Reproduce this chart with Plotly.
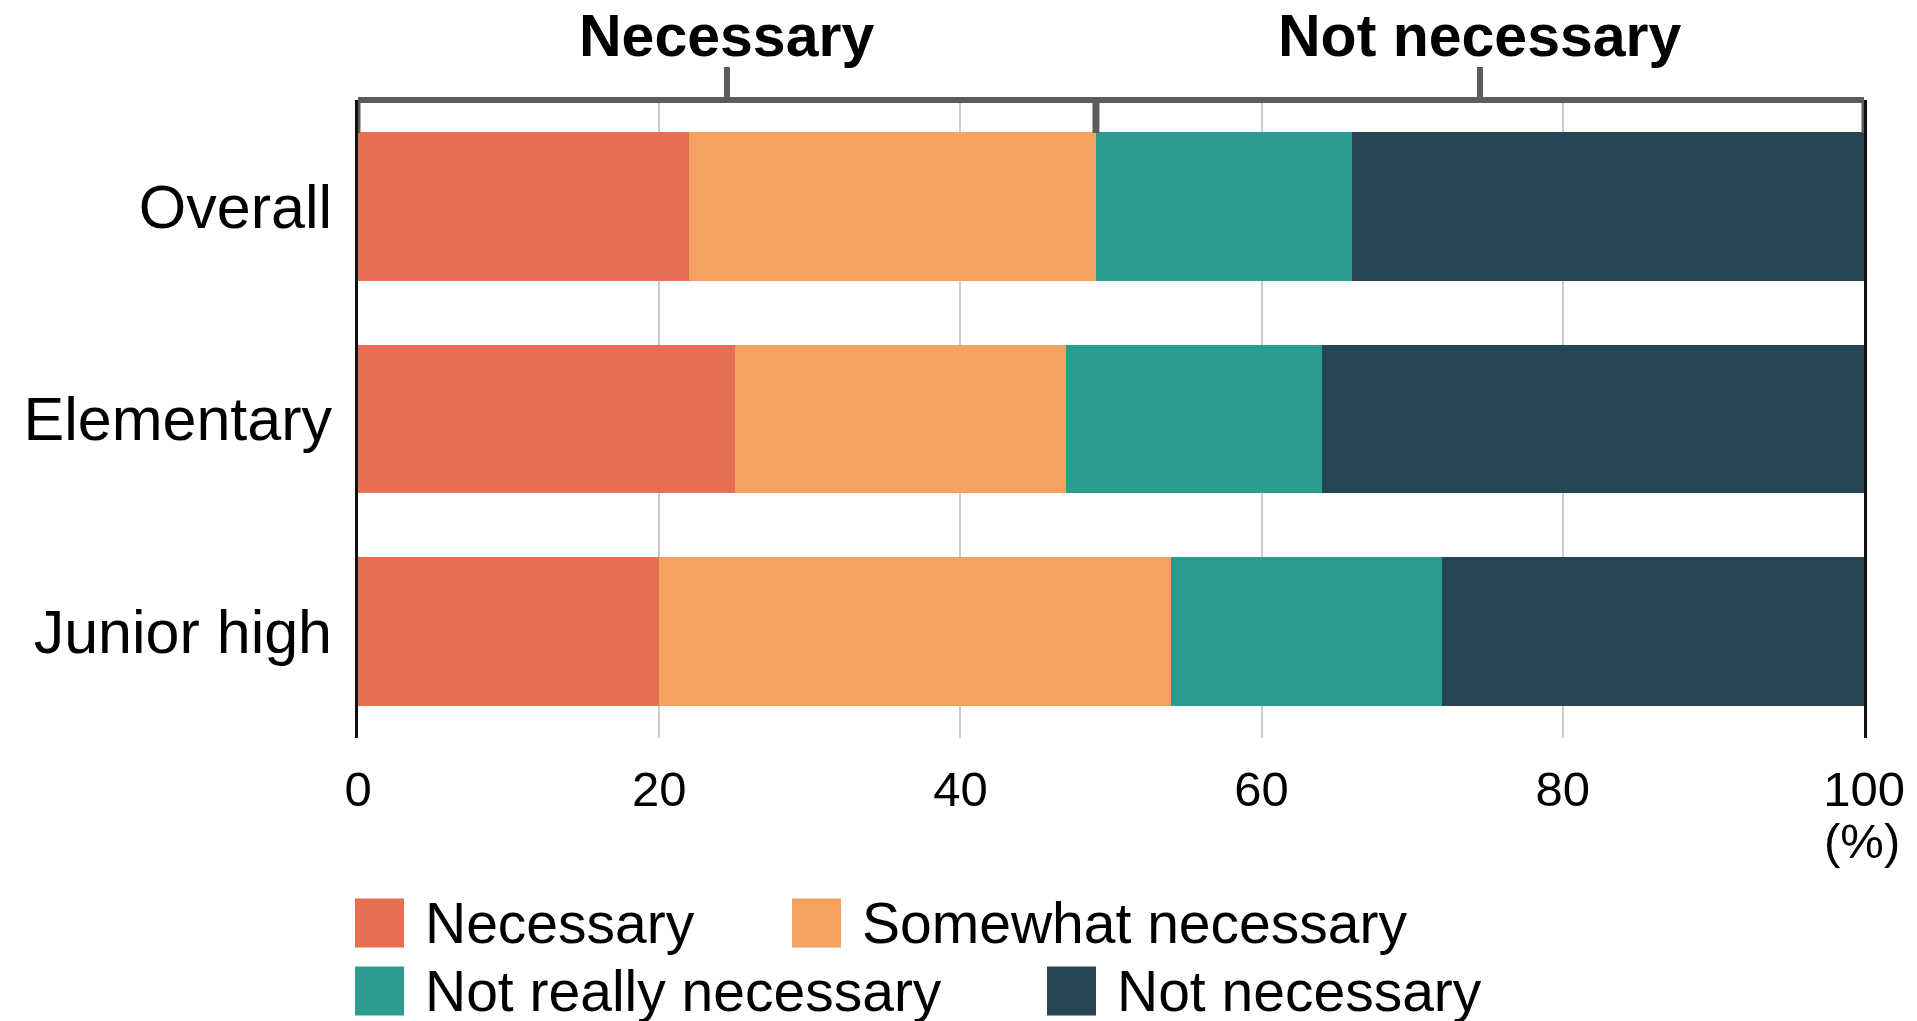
import plotly.graph_objects as go

# Survey groups (top to bottom) and response shares in percent
groups = ["Overall", "Elementary", "Junior high"]
series_names = ["Necessary", "Somewhat necessary", "Not really necessary", "Not necessary"]
necessary = [22, 25, 20]
somewhat_necessary = [27, 22, 34]
not_really_necessary = [17, 17, 18]
not_necessary = [34, 36, 28]
x_ticks = [0, 20, 40, 60, 80, 100]

# Bracket spans along the top: "Necessary" covers the first two answers of the overall row
bracket_labels = ["Necessary", "Not necessary"]

colors = ["#E76F51", "#F4A261", "#2A9D8F", "#264653"]
FONT = "Liberation Sans, Arial, Helvetica, sans-serif"

W, H = 1917, 1021
L, R, T, B = 358, 53, 100, 283
PW, PH = W - L - R, H - T - B


def px(x):
    return (x - L) / PW


def py(y):
    return (H - B - y) / PH


values = [necessary, somewhat_necessary, not_really_necessary, not_necessary]

fig = go.Figure()
for name, vals, col in zip(series_names, values, colors):
    fig.add_trace(go.Bar(
        y=groups, x=vals, name=name, orientation="h",
        marker=dict(color=col, line=dict(width=0)),
        showlegend=False, hoverinfo="x+y+name",
    ))

split = necessary[0] + somewhat_necessary[0]
bracket_color = "#5c5c5c"
shapes = []
top = 1.0
tick_bottom = py(133)
conn_top = py(67)
# horizontal bracket line
shapes.append(dict(type="line", xref="x", yref="paper", x0=0, x1=100, y0=top, y1=top,
                   line=dict(color=bracket_color, width=6)))
# end and split ticks
for xv, w in [(0, 5), (split, 7), (100, 5)]:
    shapes.append(dict(type="line", xref="x", yref="paper", x0=xv, x1=xv, y0=top, y1=tick_bottom,
                       line=dict(color=bracket_color, width=w)))
annotations = []
for lab, (a, b) in zip(bracket_labels, [(0, split), (split, 100)]):
    mid = (a + b) / 2
    shapes.append(dict(type="line", xref="x", yref="paper", x0=mid, x1=mid, y0=top, y1=conn_top,
                       line=dict(color=bracket_color, width=6)))
    annotations.append(dict(text=f"<b>{lab}</b>", xref="x", yref="paper", x=mid, y=py(36),
                            xanchor="center", yanchor="middle", showarrow=False,
                            font=dict(family=FONT, size=59, color="black")))

# axis unit
annotations.append(dict(text="(%)", xref="paper", yref="paper", x=px(1902), y=py(841),
                        xanchor="right", yanchor="middle", showarrow=False,
                        font=dict(family=FONT, size=49, color="black")))

# legend drawn as swatches with labels, two rows
legend_pos = [(355, 923), (792, 923), (355, 991), (1047, 991)]
sw = 49
for name, col, (lx, ly) in zip(series_names, colors, legend_pos):
    shapes.append(dict(type="rect", xref="paper", yref="paper",
                       x0=px(lx), x1=px(lx + sw), y0=py(ly - sw / 2), y1=py(ly + sw / 2),
                       fillcolor=col, line=dict(width=0)))
    annotations.append(dict(text=name, xref="paper", yref="paper", x=px(lx + sw + 19), y=py(ly),
                            xanchor="left", yanchor="middle", showarrow=False,
                            font=dict(family=FONT, size=57, color="black")))

fig.update_layout(
    barmode="stack",
    bargap=0.3,
    width=W, height=H,
    margin=dict(l=L, r=R, t=T, b=B, pad=0),
    paper_bgcolor="white", plot_bgcolor="white",
    font=dict(family=FONT, color="black"),
    shapes=shapes,
    annotations=annotations,
    xaxis=dict(
        range=[0, 100], tickvals=x_ticks, ticktext=[str(t) for t in x_ticks],
        showgrid=True, gridcolor="#cccccc", gridwidth=2,
        zeroline=False, showline=False, ticks="",
        tickfont=dict(family=FONT, size=49, color="black"),
        ticklabelstandoff=18, fixedrange=True,
    ),
    yaxis=dict(
        categoryorder="array", categoryarray=groups, range=[2.5, -0.5],
        showgrid=False, zeroline=False,
        showline=True, linecolor="#111111", linewidth=2.5, mirror=True,
        ticks="", tickfont=dict(family=FONT, size=61, color="black"),
        ticklabelstandoff=11, fixedrange=True,
    ),
)

fig.write_html("out.html")
